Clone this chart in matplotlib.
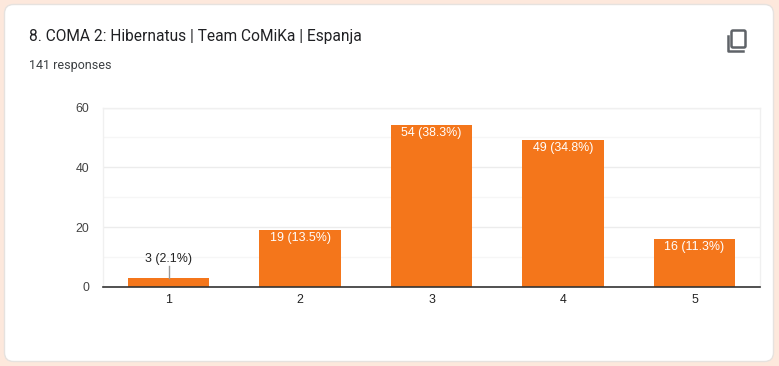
import matplotlib
matplotlib.use('Agg')
import matplotlib.pyplot as plt
from matplotlib.patches import FancyBboxPatch
from matplotlib.lines import Line2D

W, H = 779, 366

categories = ['1', '2', '3', '4', '5']
counts = [3, 19, 54, 49, 16]
labels = ['3 (2.1%)', '19 (13.5%)', '54 (38.3%)', '49 (34.8%)', '16 (11.3%)']
y_ticks = [0, 20, 40, 60]
y_minor = [10, 30, 50]

title = '8. COMA 2: Hibernatus | Team CoMiKa | Espanja'
subtitle = '141 responses'

ORANGE = '#f4761b'
plt.rcParams['font.family'] = ['Liberation Sans', 'DejaVu Sans']

fig = plt.figure(figsize=(W / 100, H / 100), dpi=100, facecolor='#fde8dc')

# background layer in pixel coordinates, y going down
bg = fig.add_axes([0, 0, 1, 1])
bg.set_xlim(0, W)
bg.set_ylim(H, 0)
bg.axis('off')
bg.add_patch(FancyBboxPatch((4.5, 4.5), 769, 357, boxstyle='round,pad=0,rounding_size=9',
                            fc='white', ec='#e6e2df', lw=1))
bg.text(29, 36.5, title, fontsize=11.2, color='#202124', va='center', family=['Roboto', 'DejaVu Sans'])
bg.text(29, 65, subtitle, fontsize=9, color='#3c4043', va='center', family=['Roboto', 'DejaVu Sans'])

# copy icon
bg.add_patch(FancyBboxPatch((731.5, 30.5), 14, 17, boxstyle='round,pad=0,rounding_size=1.5',
                            fc='none', ec='#5f6368', lw=1.8))
bg.add_line(Line2D([728, 728, 743], [36, 50.5, 50.5], color='#5f6368', lw=1.8))

ax = fig.add_axes([102.75 / W, 1 - 286.8 / H, 657.5 / W, 179.3 / H])
ax.set_xlim(-0.5, 4.5)
ax.set_ylim(0, 60)
ax.patch.set_alpha(0)

for s in ['top', 'right', 'left']:
    ax.spines[s].set_color('#f0f0f0')
    ax.spines[s].set_linewidth(1)
ax.spines['bottom'].set_color('#333333')
ax.spines['bottom'].set_linewidth(1.2)
ax.spines['bottom'].set_zorder(5)

ax.set_yticks(y_ticks)
ax.set_yticks(y_minor, minor=True)
ax.grid(axis='y', which='major', color='#ececec', lw=1)
ax.grid(axis='y', which='minor', color='#f6f6f6', lw=1)
ax.set_axisbelow(True)
ax.tick_params(axis='both', which='both', length=0)
ax.tick_params(axis='y', labelsize=8.9, labelcolor='#444444', pad=9.5)
ax.tick_params(axis='x', labelsize=8.9, labelcolor='#222222', pad=5)

x = range(len(categories))
ax.bar(x, counts, width=0.62, color=ORANGE, zorder=3)
ax.set_xticks(list(x), categories)

for i, (v, lab) in enumerate(zip(counts, labels)):
    if v < 10:
        # small bar: label sits above with a leader line
        ax.plot([i, i], [v, v + 4], color='#999999', lw=1, zorder=4)
        ax.text(i, v + 6.2, lab, ha='center', va='center', fontsize=8.9, color='#222222')
    else:
        ax.text(i, v - 2.6, lab, ha='center', va='center', fontsize=8.9, color='white', zorder=4)

fig.savefig('out.png', dpi=100, facecolor=fig.get_facecolor())
